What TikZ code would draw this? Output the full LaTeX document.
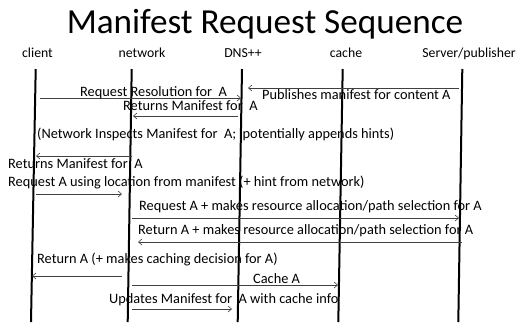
\documentclass[tikz,border=0pt]{standalone}
\usepackage{fontspec}
\setmainfont{Carlito}
\usetikzlibrary{arrows.meta}
\begin{document}
\begin{tikzpicture}[x=1bp,y=-1bp,
  lifeline/.style={line width=2bp,black},
  msg/.style={line width=0.6bp,draw=black!75,-{Straight Barb[length=3.5bp,width=6bp,line width=0.6bp]}},
  lbl/.style={font=\fontsize{14.4}{16}\selectfont,anchor=base west,inner sep=0pt},
  col/.style={font=\fontsize{13.8}{16}\selectfont,anchor=base,inner sep=0pt},
  ttl/.style={font=\fontsize{35.3}{40}\selectfont,anchor=base,inner sep=0pt}]
\useasboundingbox (0,0) rectangle (519,322);
\node[ttl] (title) at (265,33) {Manifest Request Sequence};
\node[col] (hclient) at (37.5,57) {client};
\node[col] (hnet) at (142,57) {network};
\node[col] (hdns) at (243,57) {DNS++};
\node[col] (hcache) at (346,57) {cache};
\node[col] (hsrv) at (469,57) {Server/publisher};
% lifelines
\coordinate (ct) at (35.7,69); \coordinate (cb) at (31,322);
\coordinate (nt) at (131.7,69); \coordinate (nb) at (127.7,322);
\coordinate (dt) at (242,69); \coordinate (db) at (237.7,322);
\coordinate (kt) at (342.7,69); \coordinate (kb) at (338.3,322);
\coordinate (st) at (462.3,69); \coordinate (sb) at (458.3,322);
\draw[lifeline] (ct) -- (cb);
\draw[lifeline] (nt) -- (nb);
\draw[lifeline] (dt) -- (db);
\draw[lifeline] (kt) -- (kb);
\draw[lifeline] (st) -- (sb);
% messages
\coordinate (m1a) at (40,98); \coordinate (m1b) at (241,98);
\draw[msg] (m1a) -- (m1b);
\node[lbl] (t1) at (80,96) {Request Resolution for\ \ A};
\coordinate (m2a) at (459,88); \coordinate (m2b) at (248,88);
\draw[msg] (m2a) -- (m2b);
\node[lbl] (t2) at (262,99) {Publishes manifest for content A};
\coordinate (m3a) at (238,116); \coordinate (m3b) at (133,116);
\draw[msg] (m3a) -- (m3b);
\node[lbl] (t3) at (123,110) {Returns Manifest for\ \ A};
\node[lbl] (t4) at (37,138) {(Network Inspects Manifest for\ \ A;\ \ potentially appends hints)};
\coordinate (m5a) at (131.7,156); \coordinate (m5b) at (36,156);
\draw[msg] (m5a) -- (m5b);
\node[lbl] (t5) at (8,168) {Returns Manifest for\ \ A};
\node[lbl] (t6) at (8,186) {Request A using location from manifest (+ hint from network)};
\coordinate (m6a) at (36,194); \coordinate (m6b) at (122,194);
\draw[msg] (m6a) -- (m6b);
\node[lbl] (t7) at (139,210) {Request A + makes resource allocation/path selection for A};
\coordinate (m7a) at (132,218); \coordinate (m7b) at (459,218);
\draw[msg] (m7a) -- (m7b);
\node[lbl] (t8) at (138,234) {Return A + makes resource allocation/path selection for A};
\coordinate (m8a) at (462,242); \coordinate (m8b) at (138,242);
\draw[msg] (m8a) -- (m8b);
\node[lbl] (t9) at (37,263) {Return A (+ makes caching decision for A)};
\coordinate (m9a) at (122,276); \coordinate (m9b) at (32,276);
\draw[msg] (m9a) -- (m9b);
\node[lbl] (t10) at (253,283) {Cache A};
\coordinate (m10a) at (132,285); \coordinate (m10b) at (338,285);
\draw[msg] (m10a) -- (m10b);
\node[lbl] (t11) at (109,303) {Updates Manifest for\ \ A with cache info};
\coordinate (m11a) at (132,309); \coordinate (m11b) at (232,309);
\draw[msg] (m11a) -- (m11b);
\end{tikzpicture}
\end{document}
